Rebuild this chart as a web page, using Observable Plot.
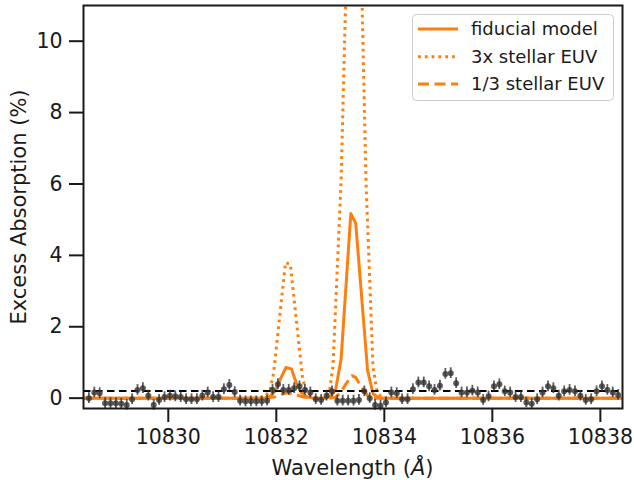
<!DOCTYPE html>
<html>
<head>
<meta charset="utf-8">
<script src="https://cdn.jsdelivr.net/npm/d3@7"></script>
<script src="https://cdn.jsdelivr.net/npm/@observablehq/plot@0.6"></script>
<style>
  html, body { margin: 0; padding: 0; background: white; }
  #chart { width: 634px; height: 480px; }
</style>
</head>
<body>
<div id="chart"></div>
<script>
// Observed excess absorption (%)
const obsWavelength = [
  10828.53, 10828.63, 10828.73, 10828.83, 10828.93,
  10829.03, 10829.13, 10829.23, 10829.33, 10829.43, 10829.53, 10829.63, 10829.73, 10829.83, 10829.93,
  10830.03, 10830.13, 10830.23, 10830.33, 10830.43, 10830.53, 10830.63, 10830.73, 10830.83, 10830.93,
  10831.03, 10831.13, 10831.23, 10831.33, 10831.43, 10831.53, 10831.63, 10831.73, 10831.83, 10831.93,
  10832.03, 10832.13, 10832.23, 10832.33, 10832.43, 10832.53, 10832.63, 10832.73, 10832.83, 10832.93,
  10833.03, 10833.13, 10833.23, 10833.33, 10833.43, 10833.53, 10833.63, 10833.73, 10833.83, 10833.93,
  10834.03, 10834.13, 10834.23, 10834.33, 10834.43, 10834.53, 10834.63, 10834.73, 10834.83, 10834.93,
  10835.03, 10835.13, 10835.23, 10835.33, 10835.43, 10835.53, 10835.63, 10835.73, 10835.83, 10835.93,
  10836.03, 10836.13, 10836.23, 10836.33, 10836.43, 10836.53, 10836.63, 10836.73, 10836.83, 10836.93,
  10837.03, 10837.13, 10837.23, 10837.33, 10837.43, 10837.53, 10837.63, 10837.73, 10837.83, 10837.93,
  10838.03, 10838.13, 10838.23, 10838.33
];
const obsAbsorption = [
  0.00, 0.16, 0.14, -0.14, -0.14, -0.14, -0.16, -0.19, -0.03, 0.23,
  0.28, 0.07, -0.19, -0.05, 0.03, 0.07, 0.05, 0.03, -0.03, -0.03,
  -0.03, 0.07, 0.16, 0.03, 0.03, 0.25, 0.37, 0.17, -0.07, -0.09,
  -0.09, -0.09, -0.09, -0.07, 0.23, 0.39, 0.23, 0.23, 0.28, 0.33,
  0.23, 0.16, -0.03, -0.05, 0.07, 0.19, -0.07, -0.07, -0.07, -0.07,
  -0.05, 0.19, 0.00, -0.19, -0.21, -0.12, 0.16, 0.14, -0.03, -0.03,
  0.25, 0.44, 0.44, 0.33, 0.23, 0.35, 0.68, 0.70, 0.42, 0.16,
  0.16, 0.21, 0.16, -0.05, 0.05, 0.33, 0.39, 0.19, 0.16, 0.03,
  0.03, -0.12, -0.16, -0.03, 0.16, 0.33, 0.28, 0.07, 0.19, 0.23,
  0.19, 0.07, -0.05, -0.03, 0.19, 0.33, 0.23, 0.16, 0.09
];
const obsError = 0.15;

// Models
const fiducialWavelength = [10828.43, 10831.78, 10831.88, 10831.98, 10832.08, 10832.18, 10832.28, 10832.38, 10832.48, 10832.58, 10832.68, 10832.92, 10833.01, 10833.10, 10833.20, 10833.38, 10833.47, 10833.69, 10833.79, 10833.88, 10833.98, 10838.41];
const fiducialModel      = [0, 0, 0.04, 0.20, 0.55, 0.86, 0.82, 0.38, 0.12, 0.03, 0, 0, 0.05, 0.25, 1.10, 5.17, 4.90, 0.78, 0.13, 0.02, 0, 0];

const tripleWavelength = [10828.43, 10831.68, 10831.78, 10831.88, 10831.95, 10832.17, 10832.26, 10832.49, 10832.58, 10832.68, 10832.78, 10832.90, 10832.98, 10833.05, 10833.20, 10833.38, 10833.47, 10833.56, 10833.66, 10833.79, 10833.86, 10833.95, 10838.41];
const tripleModel      = [0, 0, 0.03, 0.20, 0.70, 3.80, 3.75, 0.50, 0.15, 0.03, 0, 0, 0.15, 0.90, 6.10, 17.0, 16.0, 13.0, 6.10, 0.88, 0.22, 0, 0];

const thirdWavelength = [10828.43, 10831.78, 10831.98, 10832.18, 10832.28, 10832.48, 10832.68, 10833.00, 10833.10, 10833.20, 10833.29, 10833.40, 10833.47, 10833.58, 10833.70, 10833.80, 10838.41];
const thirdModel      = [0, 0, 0.04, 0.15, 0.13, 0.04, 0, 0, 0.03, 0.18, 0.40, 0.63, 0.58, 0.30, 0.05, 0, 0];

const baselineLevel = [0.2];
const xTicks = [10830, 10832, 10834, 10836, 10838];
const yTicks = [0, 2, 4, 6, 8, 10];
const seriesLabels = ["fiducial model", "3x stellar EUV", "1/3 stellar EUV"];

const obs = obsWavelength.map((w, i) => ({w, a: obsAbsorption[i], lo: obsAbsorption[i] - obsError, hi: obsAbsorption[i] + obsError}));
const toRows = (ws, vs) => ws.map((w, i) => ({w, a: vs[i]}));

const orange = "#ff7f0e";
const dashes = ["none", "2.8,4", "11,5.5"];
const ink = "#1a1a1a";

const chart = Plot.plot({
  width: 634,
  height: 480,
  marginLeft: 83,
  marginRight: 12,
  marginTop: 5,
  marginBottom: 72,
  style: {fontFamily: "DejaVu Sans", fontSize: "20px", color: ink, background: "white"},
  x: {domain: [10828.43, 10838.41]},
  y: {domain: [-0.29, 11.0]},
  marks: [
    Plot.line(toRows(fiducialWavelength, fiducialModel), {x: "w", y: "a", stroke: orange, strokeWidth: 3, clip: true}),
    Plot.line(toRows(tripleWavelength, tripleModel), {x: "w", y: "a", stroke: orange, strokeWidth: 3, strokeDasharray: dashes[1], strokeLinecap: "butt", clip: true}),
    Plot.line(toRows(thirdWavelength, thirdModel), {x: "w", y: "a", stroke: orange, strokeWidth: 3, strokeDasharray: dashes[2], strokeLinecap: "butt", clip: true}),
    Plot.ruleY(baselineLevel, {stroke: "black", strokeWidth: 2, strokeDasharray: "7.5,4.5"}),
    Plot.ruleX(obs, {x: "w", y1: "lo", y2: "hi", stroke: "#333", strokeOpacity: 0.8, strokeWidth: 1.8}),
    Plot.dot(obs, {x: "w", y: "a", r: 3, fill: "#333", fillOpacity: 0.8, stroke: "none"}),
    Plot.frame({stroke: ink, strokeWidth: 2}),
    Plot.axisX({ticks: xTicks, tickFormat: d => String(d), tickSize: 14, tickPadding: 7, strokeWidth: 2, stroke: ink, label: null, fontSize: 20.5}),
    Plot.axisY({ticks: yTicks, tickFormat: d => String(d), tickSize: 14, tickPadding: 7, strokeWidth: 2, stroke: ink, label: null, fontSize: 20.5})
  ]
});

document.getElementById("chart").appendChild(chart);

const svg = d3.select(chart);
// Axis labels
const xl = svg.append("text")
  .attr("x", 352.5).attr("y", 475)
  .attr("text-anchor", "middle")
  .attr("font-family", "DejaVu Sans").attr("font-size", 21).attr("fill", ink);
xl.append("tspan").text("Wavelength (");
xl.append("tspan").attr("font-style", "italic").text("Å");
xl.append("tspan").text(")");

svg.append("text")
  .attr("transform", "translate(26,207) rotate(-90)")
  .attr("text-anchor", "middle")
  .attr("font-family", "DejaVu Sans").attr("font-size", 21).attr("fill", ink)
  .text("Excess Absorption (%)");

// Legend
const lg = svg.append("g");
lg.append("rect")
  .attr("x", 412.5).attr("y", 14.5).attr("width", 201).attr("height", 86).attr("rx", 4)
  .attr("fill", "white").attr("fill-opacity", 0.8).attr("stroke", "#cccccc").attr("stroke-width", 1);
const rowsY = [29, 56.7, 84];
seriesLabels.forEach((label, i) => {
  lg.append("line")
    .attr("x1", 418).attr("x2", 458).attr("y1", rowsY[i]).attr("y2", rowsY[i])
    .attr("stroke", orange).attr("stroke-width", 3)
    .attr("stroke-dasharray", dashes[i]).attr("stroke-linecap", "butt");
  lg.append("text")
    .attr("x", 471).attr("y", rowsY[i] + 6.3)
    .attr("text-anchor", "start")
    .attr("font-family", "DejaVu Sans").attr("font-size", 18).attr("fill", ink)
    .text(label);
});
</script>
</body>
</html>
